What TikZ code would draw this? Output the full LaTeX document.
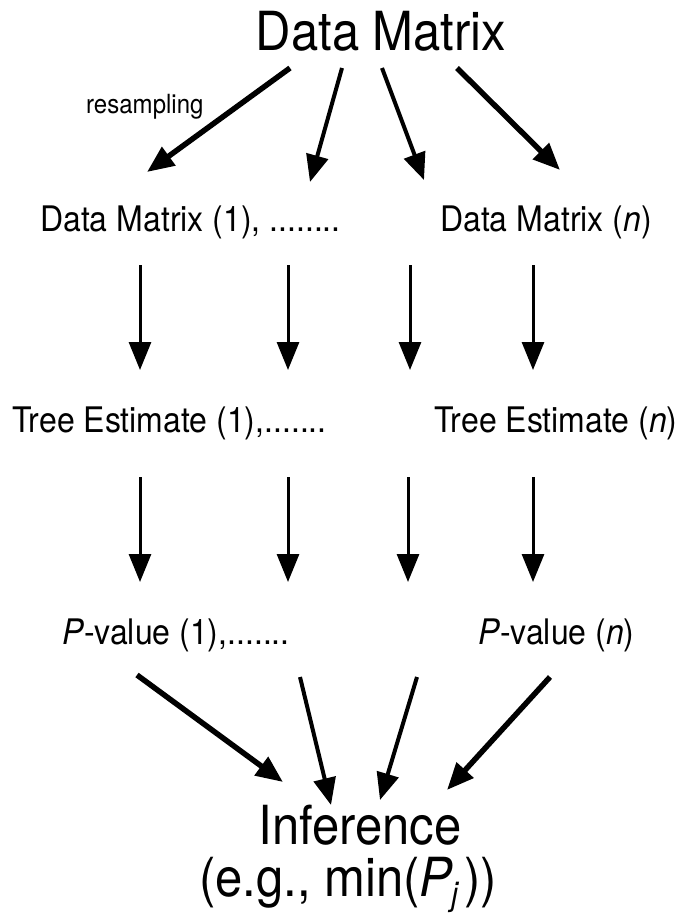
\documentclass[tikz,border=0pt]{standalone}
\usepackage{fontspec}
\usepackage{graphicx}
\setmainfont{TeX Gyre Heros}
\usetikzlibrary{arrows.meta}
\newcommand{\bigsiz}{\fontsize{49}{54}\selectfont}
\newcommand{\rowsiz}{\fontsize{32}{36}\selectfont}
\newcommand{\smallsiz}{\fontsize{24}{28}\selectfont}
\newcommand{\tallt}[1]{\scalebox{1}[1.1]{#1}}
\tikzset{
    lbl/.style={inner sep=0pt, anchor=base west},
    thickarrow/.style={line width=5.5pt, -{Triangle[length=27pt,width=22pt]}},
    midarrow/.style={line width=4pt, -{Triangle[length=27pt,width=22pt]}},
    thinarrow/.style={line width=3pt, -{Triangle[length=28pt,width=22pt]}},
}

\begin{document}
\begin{tikzpicture}[x=1pt,y=-1pt]
    \useasboundingbox (0,0) rectangle (677,918);

    \node[inner sep=0pt, anchor=base] (top) at (381,50) {\bigsiz\tallt{Data Matrix}};
    \node[lbl] (resamp) at (86,113) {\smallsiz\tallt{resampling}};

    \node[lbl] (dmOne) at (40,231) {\rowsiz\tallt{Data Matrix (1), ........}};
    \node[lbl] (dmN) at (440,231) {\rowsiz\tallt{Data Matrix (\textit{n})}};

    \node[lbl] (teOne) at (12,432) {\rowsiz\tallt{Tree Estimate (1),.......}};
    \node[lbl] (teN) at (434,432) {\rowsiz\tallt{Tree Estimate (\textit{n})}};

    \node[lbl] (pvOne) at (62,644) {\rowsiz\tallt{\textit{P}-value (1),.......}};
    \node[lbl] (pvN) at (478,644) {\rowsiz\tallt{\textit{P}-value (\textit{n})}};

    \node[inner sep=0pt, anchor=base] (infer) at (360,844) {\bigsiz\tallt{Inference}};
    \node[inner sep=0pt, anchor=base] (eg) at (348,896)
        {\bigsiz\tallt{(e.g., min(\textit{P}\kern-2pt\raisebox{-9pt}{\fontsize{30}{30}\selectfont\textit{j}}\kern5pt))}};

    % resampling fan
    \coordinate (r1) at (290,68);  \coordinate (d1) at (147,172);
    \coordinate (r2) at (342,68);  \coordinate (d2) at (310,182);
    \coordinate (r3) at (382,68);  \coordinate (d3) at (424,180);
    \coordinate (r4) at (457,68);  \coordinate (d4) at (560,170);
    \draw[thickarrow] (r1) -- (d1);
    \draw[midarrow] (r2) -- (d2);
    \draw[midarrow] (r3) -- (d3);
    \draw[thickarrow] (r4) -- (d4);

    % estimation and testing
    \foreach \i/\x/\xx in {1/140/140, 2/288/288, 3/410/408, 4/533/533} {
        \coordinate (a\i) at (\x,265);  \coordinate (b\i) at (\x,370);
        \coordinate (c\i) at (\xx,477); \coordinate (e\i) at (\xx,582);
        \draw[thinarrow] (a\i) -- (b\i);
        \draw[thinarrow] (c\i) -- (e\i);
    }

    % combine
    \coordinate (p1) at (137,675); \coordinate (q1) at (283,782);
    \coordinate (p2) at (300,677); \coordinate (q2) at (331,805);
    \coordinate (p3) at (417,677); \coordinate (q3) at (380,800);
    \coordinate (p4) at (550,677); \coordinate (q4) at (447,790);
    \draw[thickarrow] (p1) -- (q1);
    \draw[midarrow] (p2) -- (q2);
    \draw[midarrow] (p3) -- (q3);
    \draw[thickarrow] (p4) -- (q4);

\end{tikzpicture}
\end{document}
